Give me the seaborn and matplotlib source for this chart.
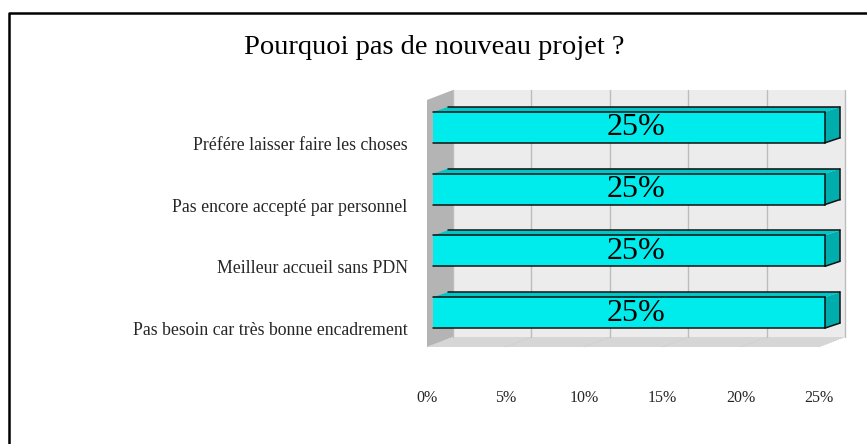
import matplotlib
matplotlib.use("Agg")
import matplotlib.pyplot as plt
import seaborn as sns
import pandas as pd
from matplotlib.patches import Polygon
from matplotlib.lines import Line2D
from matplotlib.transforms import IdentityTransform, ScaledTranslation, offset_copy

# --- data -------------------------------------------------------------
categories = [
    "Préfére laisser faire les choses",
    "Pas encore accepté par personnel",
    "Meilleur accueil sans PDN",
    "Pas besoin car très bonne encadrement",
]
values = [25, 25, 25, 25]
ticks = [0, 5, 10, 15, 20, 25]
tick_labels = ["0%", "5%", "10%", "15%", "20%", "25%"]
title = "Pourquoi pas de nouveau projet ?"

# --- style ------------------------------------------------------------
sns.set_theme(style="white")
plt.rcParams["font.family"] = ["Liberation Serif", "DejaVu Serif"]

W, H = 867, 444
fig = plt.figure(figsize=(W / 100, H / 100), dpi=100)
fig.patch.set_facecolor("white")

# axes = front plane of the 3-D box
ax = fig.add_axes([427 / W, (H - 347) / H, 392 / W, 247 / H])
ax.patch.set_visible(False)

df = pd.DataFrame({"cause": categories, "part": values})
sns.barplot(data=df, x="part", y="cause", orient="h", width=0.5,
            color="#00ecec", saturation=1, edgecolor="none", ax=ax)
ax.set_xlim(0, 25)
ax.set_ylim(3.5, -0.5)
for s in ax.spines.values():
    s.set_visible(False)

# pseudo-3D depth, in pixels
BOX_DX, BOX_DY = 26, 10        # back wall relative to front plane
BAR_DX, BAR_DY = 6, 3.5        # bar front face relative to front plane
DEP_DX, DEP_DY = 15, 5         # thickness of each bar

def disp(x, y):
    return ax.transData.transform((x, y))

ident = IdentityTransform()

# --- walls and floor --------------------------------------------------
(fx0, fy_top) = disp(0, -0.5)
(fx1, fy_bot) = disp(25, 3.5)
back = Polygon([(fx0 + BOX_DX, fy_bot + BOX_DY), (fx1 + BOX_DX, fy_bot + BOX_DY),
                (fx1 + BOX_DX, fy_top + BOX_DY), (fx0 + BOX_DX, fy_top + BOX_DY)],
               closed=True, facecolor="#ececec", edgecolor="none",
               transform=ident, zorder=-3)
side = Polygon([(fx0, fy_bot), (fx0, fy_top), (fx0 + BOX_DX, fy_top + BOX_DY),
                (fx0 + BOX_DX, fy_bot + BOX_DY)],
               closed=True, facecolor="#b4b4b4", edgecolor="none",
               transform=ident, zorder=-3)
floor = Polygon([(fx0, fy_bot), (fx1, fy_bot), (fx1 + BOX_DX, fy_bot + BOX_DY),
                 (fx0 + BOX_DX, fy_bot + BOX_DY)],
                closed=True, facecolor="#d6d6d6", edgecolor="none",
                transform=ident, zorder=-3)
for p in (back, side, floor):
    fig.add_artist(p)

for t in ticks:
    gx = disp(t, 0)[0]
    fig.add_artist(Line2D([gx + BOX_DX, gx + BOX_DX],
                          [fy_bot + BOX_DY, fy_top + BOX_DY],
                          color="#bdbdbd", lw=1.0, transform=ident, zorder=-2))
    fig.add_artist(Line2D([gx, gx + BOX_DX], [fy_bot, fy_bot + BOX_DY],
                          color="#c4c4c4", lw=0.6, ls=(0, (1, 2)),
                          transform=ident, zorder=-2))

# --- bars: shift front faces, add top and side faces ------------------
bar_tr = offset_copy(ax.transData, fig=fig, x=BAR_DX, y=BAR_DY, units="dots")
for i, p in enumerate(ax.patches):
    p.set_transform(bar_tr)
    p.set_clip_on(False)
    p.set_zorder(3)
    x0, y0 = p.get_x(), p.get_y()
    w, h = p.get_width(), p.get_height()
    (L, ya) = disp(x0, y0)
    (R, yb) = disp(x0 + w, y0 + h)
    L += BAR_DX; R += BAR_DX
    T = max(ya, yb) + BAR_DY
    B = min(ya, yb) + BAR_DY
    top = Polygon([(L, T), (R, T), (R + DEP_DX, T + DEP_DY), (L + DEP_DX, T + DEP_DY)],
                  closed=True, facecolor="#00c6c6", edgecolor="none",
                  transform=ident, zorder=3, clip_on=False)
    rside = Polygon([(R, B), (R, T), (R + DEP_DX, T + DEP_DY), (R + DEP_DX, B + DEP_DY)],
                    closed=True, facecolor="#00adad", edgecolor="none",
                    transform=ident, zorder=3, clip_on=False)
    ax.add_artist(top)
    ax.add_artist(rside)
    edges = [([L, R], [B, B]), ([R, R], [B, T]), ([L, R], [T, T]),
             ([L + DEP_DX, R + DEP_DX], [T + DEP_DY, T + DEP_DY]),
             ([R + DEP_DX, R + DEP_DX], [B + DEP_DY, T + DEP_DY]),
             ([R, R + DEP_DX], [B, B + DEP_DY])]
    for xs, ys in edges:
        ax.add_artist(Line2D(xs, ys, color="#101010", lw=1.1,
                             transform=ident, zorder=4, clip_on=False))

# value labels centred on each bar
lab_tr = offset_copy(ax.transData, fig=fig, x=BAR_DX + DEP_DX / 2,
                     y=BAR_DY - 0.5, units="dots")
for i, v in enumerate(values):
    ax.text(v / 2, i, f"{v}%", transform=lab_tr, ha="center", va="center",
            fontsize=23, color="black", zorder=5)

# --- axes labels ------------------------------------------------------
ax.set_xticks(ticks, tick_labels)
ax.tick_params(axis="x", length=0, pad=31, labelsize=11.5)
ax.tick_params(axis="y", length=0, pad=14, labelsize=12.8)
ax.set_xlabel("")
ax.set_ylabel("")
shift = ScaledTranslation(0, -12.5 / 100, fig.dpi_scale_trans)
for lab in ax.get_yticklabels():
    lab.set_transform(lab.get_transform() + shift)

fig.text(434 / W, 1 - 47 / H, title, ha="center", va="center", fontsize=20.5,
         color="black")

# chart frame
fig.add_artist(Line2D([9 / W, 9 / W, 1], [0, 1 - 13 / H, 1 - 13 / H],
                      color="black", lw=1.8, transform=fig.transFigure))

fig.savefig("out.png", dpi=100)
